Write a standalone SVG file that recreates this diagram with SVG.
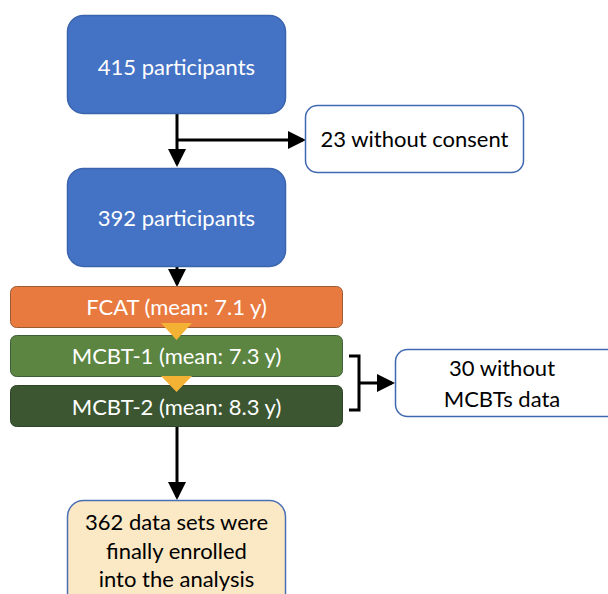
<svg xmlns="http://www.w3.org/2000/svg" width="608" height="594" viewBox="0 0 608 594">
<style>
text{font-family:Lato,"Open Sans",sans-serif;font-size:22px;text-anchor:middle;dominant-baseline:central}
.w{fill:#fff}
.k{fill:#000}
.blue{fill:#4472C4;stroke:#3A64AD;stroke-width:1.5}
.white{fill:#fff;stroke:#3F68B0;stroke-width:1.5}
.cream{fill:#FBE8C4;stroke:#4A6FB5;stroke-width:1.5}
.orange{fill:#E97A3F;stroke:#9E5A33;stroke-width:1}
.g1{fill:#5B8541;stroke:#3E5E3A;stroke-width:1}
.g2{fill:#3B5630;stroke:#2E4428;stroke-width:1}
.tri{fill:#F4B235}
.ln{stroke:#000;stroke-width:3;fill:none}
</style>
<defs>
<marker id="ah" markerWidth="6" markerHeight="6" refX="5" refY="3" orient="auto" markerUnits="strokeWidth" viewBox="0 0 6 6">
<path d="M0,0 L6,3 L0,6 z" fill="#000"/>
</marker>
</defs>
<g id="connectors">
<line class="ln" x1="177" y1="114" x2="177" y2="164" marker-end="url(#ah)"/>
<line class="ln" x1="177" y1="140" x2="303" y2="140" marker-end="url(#ah)"/>
<line class="ln" x1="177" y1="266" x2="177" y2="284" marker-end="url(#ah)"/>
<line class="ln" x1="177" y1="427" x2="177" y2="497" marker-end="url(#ah)"/>
<path class="ln" d="M349,356 H359 V410 H349 M359,383 H392" marker-end="url(#ah)"/>
</g>
<g id="n1"><rect class="blue" x="67.5" y="15.5" width="218" height="98" rx="16"/><text class="w" x="176.5" y="66">415 participants</text></g>
<g id="n2"><rect class="white" x="305.5" y="105.5" width="218" height="67" rx="12"/><text class="k" x="414.5" y="138">23 without consent</text></g>
<g id="n3"><rect class="blue" x="67.5" y="168.5" width="218" height="98" rx="16"/><text class="w" x="176.5" y="217">392 participants</text></g>
<g id="n4"><rect class="orange" x="10.5" y="286.5" width="332" height="41" rx="6"/><text class="w" x="176.5" y="306">FCAT (mean: 7.1 y)</text></g>
<g id="n5"><rect class="g1" x="10.5" y="335.5" width="332" height="41" rx="6"/><text class="w" x="176.5" y="355">MCBT-1 (mean: 7.3 y)</text></g>
<g id="n6"><rect class="g2" x="10.5" y="385.5" width="332" height="41" rx="6"/><text class="w" x="176.5" y="406">MCBT-2 (mean: 8.3 y)</text></g>
<g id="tri1"><polygon class="tri" points="161,323 192,323 176.5,340"/></g>
<g id="tri2"><polygon class="tri" points="161,376 192,376 176.5,392"/></g>
<g id="n7"><rect class="white" x="395.5" y="349.5" width="226" height="67" rx="12"/><text class="k" x="502" y="367">30 without</text><text class="k" x="502" y="398">MCBTs data</text></g>
<g id="n8"><rect class="cream" x="67.5" y="500.5" width="218" height="110" rx="16"/><text class="k" x="176.5" y="521">362 data sets were</text><text class="k" x="176.5" y="550">finally enrolled</text><text class="k" x="176.5" y="578">into the analysis</text></g>
</svg>
